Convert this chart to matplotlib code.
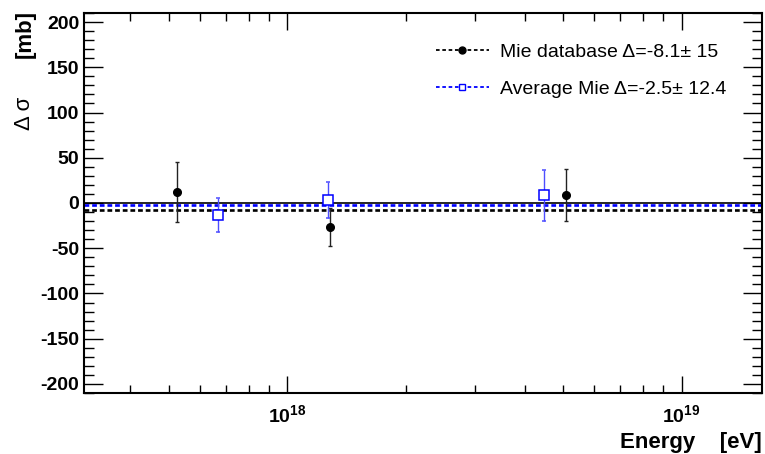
import numpy as np
import matplotlib.pyplot as plt
from matplotlib.ticker import MultipleLocator, FixedLocator, FixedFormatter, LogLocator, NullFormatter

plt.rcParams['font.family'] = ['Liberation Sans', 'DejaVu Sans']
plt.rcParams['mathtext.fontset'] = 'custom'
plt.rcParams['mathtext.rm'] = 'Liberation Sans'
plt.rcParams['mathtext.bf'] = 'Liberation Sans:bold'
plt.rcParams['axes.unicode_minus'] = False

# Mie database
e_db = np.array([5.26e17, 1.28e18, 5.09e18])
d_db = np.array([12, -26, 9])
err_db = np.array([33, 21, 29])

# Average Mie
e_avg = np.array([6.69e17, 1.27e18, 4.48e18])
d_avg = np.array([-13, 3, 8.5])
err_avg = np.array([19, 20, 28])

mean_db = -8.1
mean_avg = -2.5

fig = plt.figure(figsize=(7.65, 4.54), dpi=100)
ax = fig.add_axes([84 / 765, 1 - 393 / 454, (762 - 84) / 765, (393 - 13) / 454])

ax.axhline(0, color='black', lw=1.2)
ax.axhline(mean_db, color='black', lw=1.9, ls=(0, (1.8, 1.1)))
ax.axhline(mean_avg, color='blue', lw=1.9, ls=(0, (1.8, 1.1)))

ax.errorbar(e_db, d_db, yerr=err_db, fmt='o', color='black', ms=5.5,
            ecolor='#222222', elinewidth=1, capsize=1.5, capthick=1)
ax.errorbar(e_avg, d_avg, yerr=err_avg, fmt='s', color='blue', mfc='white',
            mec='blue', ms=6.5, mew=1.1, ecolor='#4d4dff', elinewidth=1,
            capsize=1.5, capthick=1)

# legend handles
h1, = ax.plot([], [], color='black', ls=(0, (2, 1.5)), lw=1.3, marker='o', ms=5)
h2, = ax.plot([], [], color='blue', ls=(0, (2, 1.5)), lw=1.3, marker='s', ms=5, mfc='white')
ax.legend([h1, h2],
          ['Mie database \u0394=-8.1\u00b1 15',
           'Average Mie \u0394=-2.5\u00b1 12.4'],
          loc='upper left', frameon=False, fontsize=14, handlelength=2.7,
          handletextpad=0.6, labelspacing=1.0, borderaxespad=0,
          bbox_to_anchor=(0.508, 0.94))

ax.set_xscale('log')
ax.set_xlim(3.05e17, 1.6e19)
ax.set_ylim(-210, 210)

ax.yaxis.set_major_locator(MultipleLocator(50))
ax.yaxis.set_minor_locator(MultipleLocator(10))
ax.xaxis.set_major_locator(FixedLocator([1e18, 1e19]))
ax.xaxis.set_major_formatter(FixedFormatter(['$\\mathbf{10^{18}}$', '$\\mathbf{10^{19}}$']))
ax.xaxis.set_minor_locator(LogLocator(base=10, subs=np.arange(2, 10)))
ax.xaxis.set_minor_formatter(NullFormatter())

ax.tick_params(which='both', direction='in', top=True, right=True)
ax.tick_params(which='major', length=14, width=1, labelsize=14)
ax.tick_params(which='minor', length=7, width=1)
ax.tick_params(axis='x', which='major', length=12, pad=8)
ax.tick_params(axis='x', which='minor', length=6)
for lab in ax.get_yticklabels():
    lab.set_fontweight('bold')
for sp in ax.spines.values():
    sp.set_linewidth(1.5)

ax.set_xlabel('Energy    [eV]', fontsize=16, fontweight='bold', loc='right', labelpad=4)
fig.text(25 / 765, 1 - 10 / 454, '[mb]', rotation=90, fontsize=16,
         fontweight='bold', ha='center', va='top')
fig.text(25 / 765, 1 - 97 / 454, '\u0394 \u03c3', rotation=90, fontsize=16,
         ha='center', va='top')

plt.savefig('out.png', dpi=100)
